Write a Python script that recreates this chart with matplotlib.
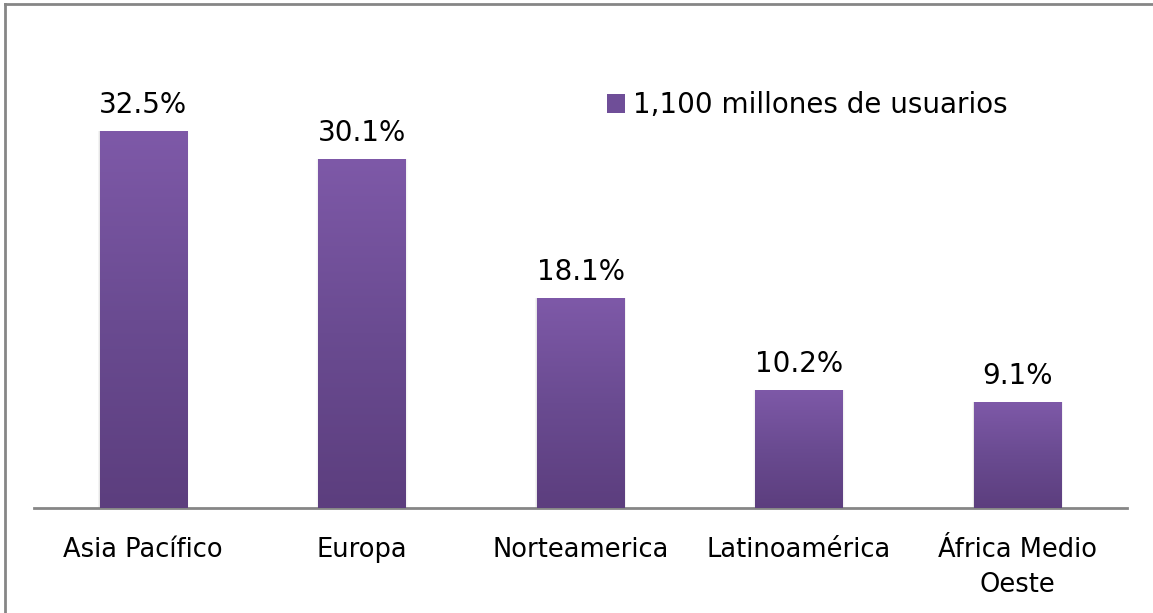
import numpy as np
import matplotlib
matplotlib.use("Agg")
import matplotlib.pyplot as plt
from matplotlib.colors import LinearSegmentedColormap
from matplotlib.patches import Rectangle
from matplotlib.lines import Line2D

categories = ["Asia Pacífico", "Europa", "Norteamerica", "Latinoamérica", "África Medio\nOeste"]
values = [32.5, 30.1, 18.1, 10.2, 9.1]
value_labels = ["32.5%", "30.1%", "18.1%", "10.2%", "9.1%"]
series_name = "1,100 millones de usuarios"

W, H = 1153, 613
fig = plt.figure(figsize=(W / 100, H / 100), dpi=100)
fig.patch.set_facecolor("white")

# outer chart frame (top and left edges visible)
fig.add_artist(Line2D([5 / W, 5 / W], [0, 1 - 4 / H], transform=fig.transFigure,
                      color="#868686", lw=2))
fig.add_artist(Line2D([5 / W, 1], [1 - 4 / H, 1 - 4 / H], transform=fig.transFigure,
                      color="#868686", lw=2))

ax_left, ax_right = 34 / W, 1127 / W
ax_bottom = (H - 508) / H
ax_top = (H - 40) / H
ax = fig.add_axes([ax_left, ax_bottom, ax_right - ax_left, ax_top - ax_bottom])
ax.set_xlim(-0.5, len(categories) - 0.5)
px_per_unit = 377 / 32.5
ax.set_ylim(0, (508 - 40) / px_per_unit)
for s in ["top", "right", "left"]:
    ax.spines[s].set_visible(False)
ax.spines["bottom"].set_color("#868686")
ax.spines["bottom"].set_linewidth(2)
ax.set_yticks([])
ax.set_xticks(range(len(categories)))
ax.set_xticklabels(categories, fontsize=18.5, color="black", linespacing=1.45)
ax.tick_params(axis="x", length=0, pad=21)

cmap = LinearSegmentedColormap.from_list("bar", ["#5C3E7E", "#6A4B91", "#7E59A8"])
grad = np.linspace(0, 1, 256).reshape(-1, 1)
width = 0.40
bars = ax.bar(range(len(values)), values, width=width, color="#6F4E98", zorder=2)
for i, (bar, v) in enumerate(zip(bars, values)):
    x0 = bar.get_x()
    # soft shadow
    for k, a in enumerate([0.05, 0.03, 0.015]):
        sh = Rectangle((x0 - 0.003 * (k + 1), 0), width + 0.006 * (k + 1), v,
                       facecolor="black", alpha=a, zorder=1, lw=0)
        ax.add_patch(sh)
    im = ax.imshow(grad, cmap=cmap, aspect="auto", origin="lower",
                   extent=[x0, x0 + width, 0, v], zorder=3)
    im.set_clip_path(bar)
    ax.text(i, v + 1.05, value_labels[i], ha="center", va="bottom",
            fontsize=20, color="black")

# legend
leg_handle = Rectangle((0, 0), 1, 1, facecolor="#6F4E98")
fig.legend([leg_handle], [series_name], loc="center left",
           bbox_to_anchor=(607 / W, 1 - 105 / H), frameon=False,
           fontsize=20, handlelength=0.65, handleheight=0.65, handletextpad=0.3,
           borderaxespad=0, borderpad=0)

fig.savefig("out.png", dpi=100, facecolor="white")
